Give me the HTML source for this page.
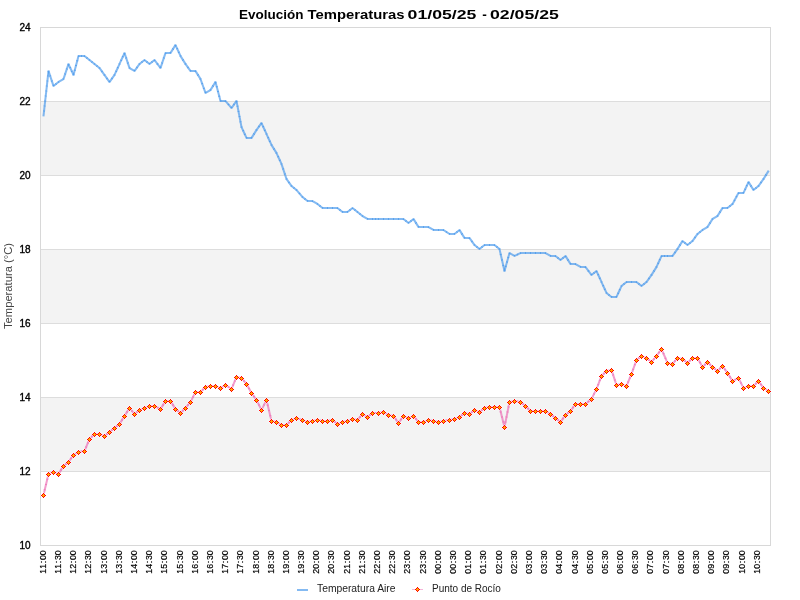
<!DOCTYPE html><html><head><meta charset="utf-8"><style>html,body{margin:0;padding:0;background:#fff;overflow:hidden}svg{display:block;will-change:transform}text{font-family:"Liberation Sans",sans-serif}</style></head><body>
<svg width="800" height="600" viewBox="0 0 800 600">
<defs><path id="mw" d="M0 -3h1v1h1v1h1v1h1v1h-1v1h-1v1h-1v1h-1v-1h-1v-1h-1v-1h-1v-1h1v-1h1v-1h1z" fill="#ffffff" fill-opacity="0.5"/><path id="mr" d="M0 -2h1v1h1v1h1v1h-1v1h-1v1h-1v-1h-1v-1h-1v-1h1v-1h1z" fill="#ff0000"/><path id="mo" d="M0 -1h1v1h1v1h-1v1h-1v-1h-1v-1h1z" fill="#ffa800"/></defs>
<rect x="0" y="0" width="800" height="600" fill="#ffffff"/>
<rect x="41" y="102" width="729" height="73" fill="#f3f3f3"/>
<rect x="41" y="250" width="729" height="73" fill="#f3f3f3"/>
<rect x="41" y="398" width="729" height="73" fill="#f3f3f3"/>
<line x1="41" y1="101.5" x2="770" y2="101.5" stroke="#dddddd" stroke-width="1"/>
<line x1="41" y1="175.5" x2="770" y2="175.5" stroke="#dddddd" stroke-width="1"/>
<line x1="41" y1="249.5" x2="770" y2="249.5" stroke="#dddddd" stroke-width="1"/>
<line x1="41" y1="323.5" x2="770" y2="323.5" stroke="#dddddd" stroke-width="1"/>
<line x1="41" y1="397.5" x2="770" y2="397.5" stroke="#dddddd" stroke-width="1"/>
<line x1="41" y1="471.5" x2="770" y2="471.5" stroke="#dddddd" stroke-width="1"/>
<rect x="40.5" y="27.5" width="730.0" height="518.0" fill="none" stroke="#d8d8d8" stroke-width="1"/>
<text x="30.5" y="31.0" font-size="10" text-anchor="end" fill="#000" stroke="#000" stroke-width="0.35">24</text>
<text x="30.5" y="105.0" font-size="10" text-anchor="end" fill="#000" stroke="#000" stroke-width="0.35">22</text>
<text x="30.5" y="179.0" font-size="10" text-anchor="end" fill="#000" stroke="#000" stroke-width="0.35">20</text>
<text x="30.5" y="253.0" font-size="10" text-anchor="end" fill="#000" stroke="#000" stroke-width="0.35">18</text>
<text x="30.5" y="327.0" font-size="10" text-anchor="end" fill="#000" stroke="#000" stroke-width="0.35">16</text>
<text x="30.5" y="401.0" font-size="10" text-anchor="end" fill="#000" stroke="#000" stroke-width="0.35">14</text>
<text x="30.5" y="475.0" font-size="10" text-anchor="end" fill="#000" stroke="#000" stroke-width="0.35">12</text>
<text x="30.5" y="549.0" font-size="10" text-anchor="end" fill="#000" stroke="#000" stroke-width="0.35">10</text>
<text transform="translate(11.6,329) rotate(-90)" font-size="11" textLength="86" lengthAdjust="spacingAndGlyphs" fill="#444">Temperatura (°C)</text>
<g font-size="12.4" font-weight="bold" fill="#000">
<text x="239.0" y="18.8" textLength="64.5" lengthAdjust="spacingAndGlyphs">Evolución</text>
<text x="307.6" y="18.8" textLength="96.9" lengthAdjust="spacingAndGlyphs">Temperaturas</text>
<text x="407.6" y="18.8" textLength="68.8" lengthAdjust="spacingAndGlyphs">01/05/25</text>
<text x="482.3" y="18.8" textLength="4.6" lengthAdjust="spacingAndGlyphs">-</text>
<text x="490.0" y="18.8" textLength="68.8" lengthAdjust="spacingAndGlyphs">02/05/25</text>
</g>
<text transform="translate(46,572.6) rotate(-90)" x="1.4 6.4 10.7 15.0 19.7" font-size="8.8" font-weight="normal" text-anchor="middle" fill="#000" stroke="#000" stroke-width="0.2">11:00</text>
<text transform="translate(61,572.6) rotate(-90)" x="1.4 6.4 10.7 15.0 19.7" font-size="8.8" font-weight="normal" text-anchor="middle" fill="#000" stroke="#000" stroke-width="0.2">11:30</text>
<text transform="translate(76,572.6) rotate(-90)" x="1.4 6.4 10.7 15.0 19.7" font-size="8.8" font-weight="normal" text-anchor="middle" fill="#000" stroke="#000" stroke-width="0.2">12:00</text>
<text transform="translate(91,572.6) rotate(-90)" x="1.4 6.4 10.7 15.0 19.7" font-size="8.8" font-weight="normal" text-anchor="middle" fill="#000" stroke="#000" stroke-width="0.2">12:30</text>
<text transform="translate(107,572.6) rotate(-90)" x="1.4 6.4 10.7 15.0 19.7" font-size="8.8" font-weight="normal" text-anchor="middle" fill="#000" stroke="#000" stroke-width="0.2">13:00</text>
<text transform="translate(122,572.6) rotate(-90)" x="1.4 6.4 10.7 15.0 19.7" font-size="8.8" font-weight="normal" text-anchor="middle" fill="#000" stroke="#000" stroke-width="0.2">13:30</text>
<text transform="translate(137,572.6) rotate(-90)" x="1.4 6.4 10.7 15.0 19.7" font-size="8.8" font-weight="normal" text-anchor="middle" fill="#000" stroke="#000" stroke-width="0.2">14:00</text>
<text transform="translate(152,572.6) rotate(-90)" x="1.4 6.4 10.7 15.0 19.7" font-size="8.8" font-weight="normal" text-anchor="middle" fill="#000" stroke="#000" stroke-width="0.2">14:30</text>
<text transform="translate(167,572.6) rotate(-90)" x="1.4 6.4 10.7 15.0 19.7" font-size="8.8" font-weight="normal" text-anchor="middle" fill="#000" stroke="#000" stroke-width="0.2">15:00</text>
<text transform="translate(183,572.6) rotate(-90)" x="1.4 6.4 10.7 15.0 19.7" font-size="8.8" font-weight="normal" text-anchor="middle" fill="#000" stroke="#000" stroke-width="0.2">15:30</text>
<text transform="translate(198,572.6) rotate(-90)" x="1.4 6.4 10.7 15.0 19.7" font-size="8.8" font-weight="normal" text-anchor="middle" fill="#000" stroke="#000" stroke-width="0.2">16:00</text>
<text transform="translate(213,572.6) rotate(-90)" x="1.4 6.4 10.7 15.0 19.7" font-size="8.8" font-weight="normal" text-anchor="middle" fill="#000" stroke="#000" stroke-width="0.2">16:30</text>
<text transform="translate(228,572.6) rotate(-90)" x="1.4 6.4 10.7 15.0 19.7" font-size="8.8" font-weight="normal" text-anchor="middle" fill="#000" stroke="#000" stroke-width="0.2">17:00</text>
<text transform="translate(243,572.6) rotate(-90)" x="1.4 6.4 10.7 15.0 19.7" font-size="8.8" font-weight="normal" text-anchor="middle" fill="#000" stroke="#000" stroke-width="0.2">17:30</text>
<text transform="translate(259,572.6) rotate(-90)" x="1.4 6.4 10.7 15.0 19.7" font-size="8.8" font-weight="normal" text-anchor="middle" fill="#000" stroke="#000" stroke-width="0.2">18:00</text>
<text transform="translate(274,572.6) rotate(-90)" x="1.4 6.4 10.7 15.0 19.7" font-size="8.8" font-weight="normal" text-anchor="middle" fill="#000" stroke="#000" stroke-width="0.2">18:30</text>
<text transform="translate(289,572.6) rotate(-90)" x="1.4 6.4 10.7 15.0 19.7" font-size="8.8" font-weight="normal" text-anchor="middle" fill="#000" stroke="#000" stroke-width="0.2">19:00</text>
<text transform="translate(304,572.6) rotate(-90)" x="1.4 6.4 10.7 15.0 19.7" font-size="8.8" font-weight="normal" text-anchor="middle" fill="#000" stroke="#000" stroke-width="0.2">19:30</text>
<text transform="translate(319,572.6) rotate(-90)" x="1.4 6.4 10.7 15.0 19.7" font-size="8.8" font-weight="normal" text-anchor="middle" fill="#000" stroke="#000" stroke-width="0.2">20:00</text>
<text transform="translate(334,572.6) rotate(-90)" x="1.4 6.4 10.7 15.0 19.7" font-size="8.8" font-weight="normal" text-anchor="middle" fill="#000" stroke="#000" stroke-width="0.2">20:30</text>
<text transform="translate(350,572.6) rotate(-90)" x="1.4 6.4 10.7 15.0 19.7" font-size="8.8" font-weight="normal" text-anchor="middle" fill="#000" stroke="#000" stroke-width="0.2">21:00</text>
<text transform="translate(365,572.6) rotate(-90)" x="1.4 6.4 10.7 15.0 19.7" font-size="8.8" font-weight="normal" text-anchor="middle" fill="#000" stroke="#000" stroke-width="0.2">21:30</text>
<text transform="translate(380,572.6) rotate(-90)" x="1.4 6.4 10.7 15.0 19.7" font-size="8.8" font-weight="normal" text-anchor="middle" fill="#000" stroke="#000" stroke-width="0.2">22:00</text>
<text transform="translate(395,572.6) rotate(-90)" x="1.4 6.4 10.7 15.0 19.7" font-size="8.8" font-weight="normal" text-anchor="middle" fill="#000" stroke="#000" stroke-width="0.2">22:30</text>
<text transform="translate(410,572.6) rotate(-90)" x="1.4 6.4 10.7 15.0 19.7" font-size="8.8" font-weight="normal" text-anchor="middle" fill="#000" stroke="#000" stroke-width="0.2">23:00</text>
<text transform="translate(426,572.6) rotate(-90)" x="1.4 6.4 10.7 15.0 19.7" font-size="8.8" font-weight="normal" text-anchor="middle" fill="#000" stroke="#000" stroke-width="0.2">23:30</text>
<text transform="translate(441,572.6) rotate(-90)" x="1.4 6.4 10.7 15.0 19.7" font-size="8.8" font-weight="normal" text-anchor="middle" fill="#000" stroke="#000" stroke-width="0.2">00:00</text>
<text transform="translate(456,572.6) rotate(-90)" x="1.4 6.4 10.7 15.0 19.7" font-size="8.8" font-weight="normal" text-anchor="middle" fill="#000" stroke="#000" stroke-width="0.2">00:30</text>
<text transform="translate(471,572.6) rotate(-90)" x="1.4 6.4 10.7 15.0 19.7" font-size="8.8" font-weight="normal" text-anchor="middle" fill="#000" stroke="#000" stroke-width="0.2">01:00</text>
<text transform="translate(486,572.6) rotate(-90)" x="1.4 6.4 10.7 15.0 19.7" font-size="8.8" font-weight="normal" text-anchor="middle" fill="#000" stroke="#000" stroke-width="0.2">01:30</text>
<text transform="translate(502,572.6) rotate(-90)" x="1.4 6.4 10.7 15.0 19.7" font-size="8.8" font-weight="normal" text-anchor="middle" fill="#000" stroke="#000" stroke-width="0.2">02:00</text>
<text transform="translate(517,572.6) rotate(-90)" x="1.4 6.4 10.7 15.0 19.7" font-size="8.8" font-weight="normal" text-anchor="middle" fill="#000" stroke="#000" stroke-width="0.2">02:30</text>
<text transform="translate(532,572.6) rotate(-90)" x="1.4 6.4 10.7 15.0 19.7" font-size="8.8" font-weight="normal" text-anchor="middle" fill="#000" stroke="#000" stroke-width="0.2">03:00</text>
<text transform="translate(547,572.6) rotate(-90)" x="1.4 6.4 10.7 15.0 19.7" font-size="8.8" font-weight="normal" text-anchor="middle" fill="#000" stroke="#000" stroke-width="0.2">03:30</text>
<text transform="translate(562,572.6) rotate(-90)" x="1.4 6.4 10.7 15.0 19.7" font-size="8.8" font-weight="normal" text-anchor="middle" fill="#000" stroke="#000" stroke-width="0.2">04:00</text>
<text transform="translate(578,572.6) rotate(-90)" x="1.4 6.4 10.7 15.0 19.7" font-size="8.8" font-weight="normal" text-anchor="middle" fill="#000" stroke="#000" stroke-width="0.2">04:30</text>
<text transform="translate(593,572.6) rotate(-90)" x="1.4 6.4 10.7 15.0 19.7" font-size="8.8" font-weight="normal" text-anchor="middle" fill="#000" stroke="#000" stroke-width="0.2">05:00</text>
<text transform="translate(608,572.6) rotate(-90)" x="1.4 6.4 10.7 15.0 19.7" font-size="8.8" font-weight="normal" text-anchor="middle" fill="#000" stroke="#000" stroke-width="0.2">05:30</text>
<text transform="translate(623,572.6) rotate(-90)" x="1.4 6.4 10.7 15.0 19.7" font-size="8.8" font-weight="normal" text-anchor="middle" fill="#000" stroke="#000" stroke-width="0.2">06:00</text>
<text transform="translate(638,572.6) rotate(-90)" x="1.4 6.4 10.7 15.0 19.7" font-size="8.8" font-weight="normal" text-anchor="middle" fill="#000" stroke="#000" stroke-width="0.2">06:30</text>
<text transform="translate(653,572.6) rotate(-90)" x="1.4 6.4 10.7 15.0 19.7" font-size="8.8" font-weight="normal" text-anchor="middle" fill="#000" stroke="#000" stroke-width="0.2">07:00</text>
<text transform="translate(669,572.6) rotate(-90)" x="1.4 6.4 10.7 15.0 19.7" font-size="8.8" font-weight="normal" text-anchor="middle" fill="#000" stroke="#000" stroke-width="0.2">07:30</text>
<text transform="translate(684,572.6) rotate(-90)" x="1.4 6.4 10.7 15.0 19.7" font-size="8.8" font-weight="normal" text-anchor="middle" fill="#000" stroke="#000" stroke-width="0.2">08:00</text>
<text transform="translate(699,572.6) rotate(-90)" x="1.4 6.4 10.7 15.0 19.7" font-size="8.8" font-weight="normal" text-anchor="middle" fill="#000" stroke="#000" stroke-width="0.2">08:30</text>
<text transform="translate(714,572.6) rotate(-90)" x="1.4 6.4 10.7 15.0 19.7" font-size="8.8" font-weight="normal" text-anchor="middle" fill="#000" stroke="#000" stroke-width="0.2">09:00</text>
<text transform="translate(729,572.6) rotate(-90)" x="1.4 6.4 10.7 15.0 19.7" font-size="8.8" font-weight="normal" text-anchor="middle" fill="#000" stroke="#000" stroke-width="0.2">09:30</text>
<text transform="translate(745,572.6) rotate(-90)" x="1.4 6.4 10.7 15.0 19.7" font-size="8.8" font-weight="normal" text-anchor="middle" fill="#000" stroke="#000" stroke-width="0.2">10:00</text>
<text transform="translate(760,572.6) rotate(-90)" x="1.4 6.4 10.7 15.0 19.7" font-size="8.8" font-weight="normal" text-anchor="middle" fill="#000" stroke="#000" stroke-width="0.2">10:30</text>
<g stroke="rgb(60,145,235)" stroke-opacity="0.63" stroke-width="2" fill="none" stroke-linecap="butt">
<path d="M43.45 116.45L44.11 110.55"/><path d="M44.01 111.45L44.66 105.55"/><path d="M44.56 106.45L45.22 100.55"/><path d="M45.12 101.45L45.77 95.55"/><path d="M45.67 96.45L46.33 90.55"/><path d="M46.23 91.45L46.88 85.55"/><path d="M46.78 86.45L47.44 80.55"/><path d="M47.34 81.45L47.99 75.55"/><path d="M47.89 76.45L48.55 70.55"/>
<path d="M48.36 70.57L50.31 76.43"/><path d="M50.02 75.57L51.98 81.43"/><path d="M51.69 80.57L53.64 86.43"/>
<path d="M53.15 86.28L56.35 83.72"/><path d="M55.65 84.28L58.85 81.72"/>
<path d="M58.11 82.23L63.89 78.77"/>
<path d="M63.36 79.43L65.31 73.57"/><path d="M65.02 74.43L66.98 68.57"/><path d="M66.69 69.43L68.64 63.57"/>
<path d="M68.31 63.59L70.35 68.08"/><path d="M69.98 67.26L72.02 71.74"/><path d="M71.65 70.92L73.69 75.41"/>
<path d="M73.39 75.44L74.86 69.81"/><path d="M74.64 70.69L76.11 65.06"/><path d="M75.89 65.94L77.36 60.31"/><path d="M77.14 61.19L78.61 55.56"/>
<path d="M78.05 56.00L81.95 56.00"/><path d="M81.05 56.00L84.95 56.00"/>
<path d="M84.15 55.72L87.35 58.28"/><path d="M86.65 57.72L89.85 60.28"/>
<path d="M89.15 59.72L92.35 62.28"/><path d="M91.65 61.72L94.85 64.28"/>
<path d="M94.15 63.72L97.35 66.28"/><path d="M96.65 65.72L99.85 68.28"/>
<path d="M99.24 67.63L102.26 71.87"/><path d="M101.74 71.13L104.76 75.37"/>
<path d="M104.24 74.63L107.26 78.87"/><path d="M106.74 78.13L109.76 82.37"/>
<path d="M109.24 82.37L112.26 78.13"/><path d="M111.74 78.87L114.76 74.63"/>
<path d="M114.31 75.41L116.35 70.92"/><path d="M115.98 71.74L118.02 67.26"/><path d="M117.65 68.08L119.69 63.59"/>
<path d="M119.31 64.41L121.35 59.92"/><path d="M120.98 60.74L123.02 56.26"/><path d="M122.65 57.08L124.69 52.59"/>
<path d="M124.36 52.57L126.31 58.43"/><path d="M126.02 57.57L127.98 63.43"/><path d="M127.69 62.57L129.64 68.43"/>
<path d="M129.11 67.77L134.89 71.23"/>
<path d="M134.24 71.37L137.26 67.13"/><path d="M136.74 67.87L139.76 63.63"/>
<path d="M139.15 64.28L142.35 61.72"/><path d="M141.65 62.28L144.85 59.72"/>
<path d="M144.15 59.72L147.35 62.28"/><path d="M146.65 61.72L149.85 64.28"/>
<path d="M149.15 64.28L152.35 61.72"/><path d="M151.65 62.28L154.85 59.72"/>
<path d="M154.23 59.64L157.77 64.36"/><path d="M157.23 63.64L160.77 68.36"/>
<path d="M160.36 68.43L162.31 62.57"/><path d="M162.02 63.43L163.98 57.57"/><path d="M163.69 58.43L165.64 52.57"/>
<path d="M165.05 53.00L170.95 53.00"/>
<path d="M170.26 53.38L173.24 48.62"/><path d="M172.76 49.38L175.74 44.62"/>
<path d="M175.31 44.59L177.35 49.08"/><path d="M176.98 48.26L179.02 52.74"/><path d="M178.65 51.92L180.69 56.41"/>
<path d="M180.26 55.62L183.24 60.38"/><path d="M182.76 59.62L185.74 64.38"/>
<path d="M185.24 63.63L188.26 67.87"/><path d="M187.74 67.13L190.76 71.37"/>
<path d="M190.05 71.00L195.95 71.00"/>
<path d="M195.26 70.62L198.24 75.38"/><path d="M197.76 74.62L200.74 79.38"/>
<path d="M200.35 78.58L202.32 84.09"/><path d="M202.02 83.24L203.98 88.76"/><path d="M203.68 87.91L205.65 93.42"/>
<path d="M205.11 93.23L210.89 89.77"/>
<path d="M210.26 90.38L213.24 85.62"/><path d="M212.76 86.38L215.74 81.62"/>
<path d="M215.39 81.56L216.86 87.19"/><path d="M216.64 86.31L218.11 91.94"/><path d="M217.89 91.06L219.36 96.69"/><path d="M219.14 95.81L220.61 101.44"/>
<path d="M220.05 101.00L225.95 101.00"/>
<path d="M225.21 100.66L228.79 104.84"/><path d="M228.21 104.16L231.79 108.34"/>
<path d="M231.24 108.37L234.26 104.13"/><path d="M233.74 104.87L236.76 100.63"/>
<path d="M236.42 100.56L237.58 106.64"/><path d="M237.42 105.76L238.58 111.84"/><path d="M238.42 110.96L239.58 117.04"/><path d="M239.42 116.16L240.58 122.24"/><path d="M240.42 121.36L241.58 127.44"/>
<path d="M241.31 126.59L243.35 131.08"/><path d="M242.98 130.26L245.02 134.74"/><path d="M244.65 133.92L246.69 138.41"/>
<path d="M246.05 138.00L251.95 138.00"/>
<path d="M251.26 138.38L254.24 133.62"/><path d="M253.76 134.38L256.74 129.62"/>
<path d="M256.24 130.37L259.26 126.13"/><path d="M258.74 126.87L261.76 122.63"/>
<path d="M261.31 122.59L263.35 127.08"/><path d="M262.98 126.26L265.02 130.74"/><path d="M264.65 129.92L266.69 134.41"/>
<path d="M266.31 133.59L268.35 138.08"/><path d="M267.98 137.26L270.02 141.74"/><path d="M269.65 140.92L271.69 145.41"/>
<path d="M271.26 144.62L274.24 149.38"/><path d="M273.76 148.62L276.74 153.38"/>
<path d="M276.31 152.59L278.35 157.08"/><path d="M277.98 156.26L280.02 160.74"/><path d="M279.65 159.92L281.69 164.41"/>
<path d="M281.36 163.57L283.31 169.43"/><path d="M283.02 168.57L284.98 174.43"/><path d="M284.69 173.57L286.64 179.43"/>
<path d="M286.24 178.63L289.26 182.87"/><path d="M288.74 182.13L291.76 186.37"/>
<path d="M291.15 185.72L294.35 188.28"/><path d="M293.65 187.72L296.85 190.28"/>
<path d="M296.21 189.66L299.79 193.84"/><path d="M299.21 193.16L302.79 197.34"/>
<path d="M302.15 196.72L305.35 199.28"/><path d="M304.65 198.72L307.85 201.28"/>
<path d="M307.05 201.00L312.95 201.00"/>
<path d="M312.11 200.77L317.89 204.23"/>
<path d="M317.15 203.72L320.35 206.28"/><path d="M319.65 205.72L322.85 208.28"/>
<path d="M322.05 208.00L327.95 208.00"/>
<path d="M327.05 208.00L332.95 208.00"/>
<path d="M332.05 208.00L337.95 208.00"/>
<path d="M337.15 207.72L340.35 210.28"/><path d="M339.65 209.72L342.85 212.28"/>
<path d="M342.05 212.00L347.95 212.00"/>
<path d="M347.15 212.28L350.35 209.72"/><path d="M349.65 210.28L352.85 207.72"/>
<path d="M352.15 207.72L355.35 210.28"/><path d="M354.65 209.72L357.85 212.28"/>
<path d="M357.15 211.72L360.35 214.28"/><path d="M359.65 213.72L362.85 216.28"/>
<path d="M362.11 215.77L367.89 219.23"/>
<path d="M367.05 219.00L372.95 219.00"/>
<path d="M372.05 219.00L375.95 219.00"/><path d="M375.05 219.00L378.95 219.00"/>
<path d="M378.05 219.00L383.95 219.00"/>
<path d="M383.05 219.00L388.95 219.00"/>
<path d="M388.05 219.00L393.95 219.00"/>
<path d="M393.05 219.00L398.95 219.00"/>
<path d="M398.05 219.00L403.95 219.00"/>
<path d="M403.15 218.72L406.35 221.28"/><path d="M405.65 220.72L408.85 223.28"/>
<path d="M408.15 223.28L411.35 220.72"/><path d="M410.65 221.28L413.85 218.72"/>
<path d="M413.26 218.62L416.24 223.38"/><path d="M415.76 222.62L418.74 227.38"/>
<path d="M418.05 227.00L423.95 227.00"/>
<path d="M423.05 227.00L428.95 227.00"/>
<path d="M428.11 226.77L433.89 230.23"/>
<path d="M433.05 230.00L438.95 230.00"/>
<path d="M438.05 230.00L443.95 230.00"/>
<path d="M443.13 229.75L446.87 232.25"/><path d="M446.13 231.75L449.87 234.25"/>
<path d="M449.05 234.00L454.95 234.00"/>
<path d="M454.15 234.28L457.35 231.72"/><path d="M456.65 232.28L459.85 229.72"/>
<path d="M459.26 229.62L462.24 234.38"/><path d="M461.76 233.62L464.74 238.38"/>
<path d="M464.05 238.00L469.95 238.00"/>
<path d="M469.24 237.63L472.26 241.87"/><path d="M471.74 241.13L474.76 245.37"/>
<path d="M474.15 244.72L477.35 247.28"/><path d="M476.65 246.72L479.85 249.28"/>
<path d="M479.15 249.28L482.35 246.72"/><path d="M481.65 247.28L484.85 244.72"/>
<path d="M484.05 245.00L489.95 245.00"/>
<path d="M489.05 245.00L494.95 245.00"/>
<path d="M494.15 244.72L497.35 247.28"/><path d="M496.65 246.72L499.85 249.28"/>
<path d="M499.40 248.56L500.85 254.94"/><path d="M500.65 254.06L502.10 260.44"/><path d="M501.90 259.56L503.35 265.94"/><path d="M503.15 265.06L504.60 271.44"/>
<path d="M504.38 271.43L505.87 266.07"/><path d="M505.63 266.93L507.12 261.57"/><path d="M506.88 262.43L508.37 257.07"/><path d="M508.13 257.93L509.62 252.57"/>
<path d="M509.11 252.77L514.89 256.23"/>
<path d="M514.10 256.20L517.90 254.30"/><path d="M517.10 254.70L520.90 252.80"/>
<path d="M520.05 253.00L525.95 253.00"/>
<path d="M525.05 253.00L530.95 253.00"/>
<path d="M530.05 253.00L535.95 253.00"/>
<path d="M535.05 253.00L540.95 253.00"/>
<path d="M540.05 253.00L545.95 253.00"/>
<path d="M545.11 252.77L550.89 256.23"/>
<path d="M550.05 256.00L555.95 256.00"/>
<path d="M555.15 255.72L558.35 258.28"/><path d="M557.65 257.72L560.85 260.28"/>
<path d="M560.15 260.28L563.35 257.72"/><path d="M562.65 258.28L565.85 255.72"/>
<path d="M565.26 255.62L568.24 260.38"/><path d="M567.76 259.62L570.74 264.38"/>
<path d="M570.05 264.00L575.95 264.00"/>
<path d="M575.11 263.77L580.89 267.23"/>
<path d="M580.05 267.00L585.95 267.00"/>
<path d="M585.23 266.64L588.77 271.36"/><path d="M588.23 270.64L591.77 275.36"/>
<path d="M591.15 275.28L594.35 272.72"/><path d="M593.65 273.28L596.85 270.72"/>
<path d="M596.31 270.59L598.35 275.08"/><path d="M597.98 274.26L600.02 278.74"/><path d="M599.65 277.92L601.69 282.41"/>
<path d="M601.31 281.59L603.35 286.08"/><path d="M602.98 285.26L605.02 289.74"/><path d="M604.65 288.92L606.69 293.41"/>
<path d="M606.15 292.72L609.35 295.28"/><path d="M608.65 294.72L611.85 297.28"/>
<path d="M611.05 297.00L616.95 297.00"/>
<path d="M616.31 297.41L618.35 292.92"/><path d="M617.98 293.74L620.02 289.26"/><path d="M619.65 290.08L621.69 285.59"/>
<path d="M621.15 286.28L624.35 283.72"/><path d="M623.65 284.28L626.85 281.72"/>
<path d="M626.05 282.00L631.95 282.00"/>
<path d="M631.05 282.00L636.95 282.00"/>
<path d="M636.15 281.72L639.35 284.28"/><path d="M638.65 283.72L641.85 286.28"/>
<path d="M641.15 286.28L644.35 283.72"/><path d="M643.65 284.28L646.85 281.72"/>
<path d="M646.24 282.37L649.26 278.13"/><path d="M648.74 278.87L651.76 274.63"/>
<path d="M651.26 275.38L654.24 270.62"/><path d="M653.76 271.38L656.74 266.62"/>
<path d="M656.31 267.41L658.35 262.92"/><path d="M657.98 263.74L660.02 259.26"/><path d="M659.65 260.08L661.69 255.59"/>
<path d="M661.05 256.00L664.95 256.00"/><path d="M664.05 256.00L667.95 256.00"/>
<path d="M667.05 256.00L672.95 256.00"/>
<path d="M672.24 256.37L675.26 252.13"/><path d="M674.74 252.87L677.76 248.63"/>
<path d="M677.26 249.38L680.24 244.62"/><path d="M679.76 245.38L682.74 240.62"/>
<path d="M682.15 240.72L685.35 243.28"/><path d="M684.65 242.72L687.85 245.28"/>
<path d="M687.15 245.28L690.35 242.72"/><path d="M689.65 243.28L692.85 240.72"/>
<path d="M692.24 241.37L695.26 237.13"/><path d="M694.74 237.87L697.76 233.63"/>
<path d="M697.15 234.28L700.35 231.72"/><path d="M699.65 232.28L702.85 229.72"/>
<path d="M702.11 230.23L707.89 226.77"/>
<path d="M707.26 227.38L710.24 222.62"/><path d="M709.76 223.38L712.74 218.62"/>
<path d="M712.11 219.23L717.89 215.77"/>
<path d="M717.26 216.38L720.24 211.62"/><path d="M719.76 212.38L722.74 207.62"/>
<path d="M722.05 208.00L727.95 208.00"/>
<path d="M727.15 208.28L730.35 205.72"/><path d="M729.65 206.28L732.85 203.72"/>
<path d="M732.28 204.40L734.72 199.94"/><path d="M734.28 200.73L736.72 196.27"/><path d="M736.28 197.06L738.72 192.60"/>
<path d="M738.05 193.00L743.95 193.00"/>
<path d="M743.31 193.41L745.35 188.92"/><path d="M744.98 189.74L747.02 185.26"/><path d="M746.65 186.08L748.69 181.59"/>
<path d="M748.26 181.62L751.24 186.38"/><path d="M750.76 185.62L753.74 190.38"/>
<path d="M753.15 190.28L756.35 187.72"/><path d="M755.65 188.28L758.85 185.72"/>
<path d="M758.24 186.37L761.26 182.13"/><path d="M760.74 182.87L763.76 178.63"/>
<path d="M763.26 179.38L766.24 174.62"/><path d="M765.76 175.38L768.74 170.62"/>
</g>
<g stroke="rgb(235,105,178)" stroke-opacity="0.66" stroke-width="2" fill="none" stroke-linecap="butt">
<path d="M43.40 495.44L44.85 489.31"/><path d="M44.65 490.19L46.10 484.06"/><path d="M45.90 484.94L47.35 478.81"/><path d="M47.15 479.69L48.60 473.56"/>
<path d="M48.08 474.17L53.92 471.83"/>
<path d="M53.08 471.83L58.92 474.17"/>
<path d="M58.26 474.38L61.24 469.62"/><path d="M60.76 470.38L63.74 465.62"/>
<path d="M63.15 466.28L66.35 463.72"/><path d="M65.65 464.28L68.85 461.72"/>
<path d="M68.24 462.37L71.26 458.13"/><path d="M70.74 458.87L73.76 454.63"/>
<path d="M73.11 455.23L78.89 451.77"/>
<path d="M78.06 452.07L81.94 451.43"/><path d="M81.06 451.57L84.94 450.93"/>
<path d="M84.33 451.42L86.34 446.58"/><path d="M85.99 447.42L88.01 442.58"/><path d="M87.66 443.42L89.67 438.58"/>
<path d="M89.18 439.32L92.32 436.18"/><path d="M91.68 436.82L94.82 433.68"/>
<path d="M94.05 434.00L99.95 434.00"/>
<path d="M99.08 433.83L104.92 436.17"/>
<path d="M104.15 436.28L107.35 433.72"/><path d="M106.65 434.28L109.85 431.72"/>
<path d="M109.15 432.28L112.35 429.72"/><path d="M111.65 430.28L114.85 427.72"/>
<path d="M114.15 428.28L117.35 425.72"/><path d="M116.65 426.28L119.85 423.72"/>
<path d="M119.26 424.38L122.24 419.62"/><path d="M121.76 420.38L124.74 415.62"/>
<path d="M124.26 416.38L127.24 411.62"/><path d="M126.76 412.38L129.74 407.62"/>
<path d="M129.21 407.65L132.29 411.35"/><path d="M131.71 410.65L134.79 414.35"/>
<path d="M134.15 414.28L137.35 411.72"/><path d="M136.65 412.28L139.85 409.72"/>
<path d="M139.08 410.17L144.92 407.83"/>
<path d="M144.08 408.17L149.92 405.83"/>
<path d="M149.05 406.00L154.95 406.00"/>
<path d="M154.10 405.80L157.90 407.70"/><path d="M157.10 407.30L160.90 409.20"/>
<path d="M160.26 409.38L163.24 404.62"/><path d="M162.76 405.38L165.74 400.62"/>
<path d="M165.05 401.00L170.95 401.00"/>
<path d="M170.26 400.62L173.24 405.38"/><path d="M172.76 404.62L175.74 409.38"/>
<path d="M175.15 408.72L178.35 411.28"/><path d="M177.65 410.72L180.85 413.28"/>
<path d="M180.18 413.32L183.32 410.18"/><path d="M182.68 410.82L185.82 407.68"/>
<path d="M185.21 408.35L188.29 404.65"/><path d="M187.71 405.35L190.79 401.65"/>
<path d="M190.30 402.40L193.20 396.60"/><path d="M192.80 397.40L195.70 391.60"/>
<path d="M195.05 392.00L200.95 392.00"/>
<path d="M200.18 392.32L203.32 389.18"/><path d="M202.68 389.82L205.82 386.68"/>
<path d="M205.06 387.09L210.94 385.91"/>
<path d="M210.05 386.00L215.95 386.00"/>
<path d="M215.08 385.83L220.92 388.17"/>
<path d="M220.11 388.23L225.89 384.77"/>
<path d="M225.13 384.75L228.87 387.25"/><path d="M228.13 386.75L231.87 389.25"/>
<path d="M231.33 389.42L233.34 384.58"/><path d="M232.99 385.42L235.01 380.58"/><path d="M234.66 381.42L236.67 376.58"/>
<path d="M236.06 376.91L241.94 378.09"/>
<path d="M241.21 377.65L244.29 381.35"/><path d="M243.71 380.65L246.79 384.35"/>
<path d="M246.28 383.61L249.22 388.89"/><path d="M248.78 388.11L251.72 393.39"/>
<path d="M251.24 392.63L254.26 396.87"/><path d="M253.74 396.13L256.76 400.37"/>
<path d="M256.30 399.60L259.20 405.40"/><path d="M258.80 404.60L261.70 410.40"/>
<path d="M261.30 410.40L264.20 404.60"/><path d="M263.80 405.40L266.70 399.60"/>
<path d="M266.40 399.56L267.85 405.69"/><path d="M267.65 404.81L269.10 410.94"/><path d="M268.90 410.06L270.35 416.19"/><path d="M270.15 415.31L271.60 421.44"/>
<path d="M271.06 420.91L276.94 422.09"/>
<path d="M276.11 421.77L281.89 425.23"/>
<path d="M281.05 425.00L286.95 425.00"/>
<path d="M286.18 425.32L289.32 422.18"/><path d="M288.68 422.82L291.82 419.68"/>
<path d="M291.08 420.17L296.92 417.83"/>
<path d="M296.07 417.86L299.93 419.14"/><path d="M299.07 418.86L302.93 420.14"/>
<path d="M302.08 419.83L307.92 422.17"/>
<path d="M307.06 422.09L312.94 420.91"/>
<path d="M312.06 421.09L317.94 419.91"/>
<path d="M317.06 419.91L322.94 421.09"/>
<path d="M322.05 421.00L327.95 421.00"/>
<path d="M327.06 421.09L332.94 419.91"/>
<path d="M332.15 419.72L335.35 422.28"/><path d="M334.65 421.72L337.85 424.28"/>
<path d="M337.08 424.17L342.92 421.83"/>
<path d="M342.06 422.09L347.94 420.91"/>
<path d="M347.08 421.17L352.92 418.83"/>
<path d="M352.06 418.91L357.94 420.09"/>
<path d="M357.21 420.35L360.29 416.65"/><path d="M359.71 417.35L362.79 413.65"/>
<path d="M362.11 413.77L367.89 417.23"/>
<path d="M367.15 417.28L370.35 414.72"/><path d="M369.65 415.28L372.85 412.72"/>
<path d="M372.05 413.00L375.95 413.00"/><path d="M375.05 413.00L378.95 413.00"/>
<path d="M378.06 413.09L383.94 411.91"/>
<path d="M383.11 411.77L388.89 415.23"/>
<path d="M388.06 414.91L393.94 416.09"/>
<path d="M393.24 415.63L396.26 419.87"/><path d="M395.74 419.13L398.76 423.37"/>
<path d="M398.24 423.37L401.26 419.13"/><path d="M400.74 419.87L403.76 415.63"/>
<path d="M403.08 415.83L408.92 418.17"/>
<path d="M408.08 418.17L413.92 415.83"/>
<path d="M413.21 415.65L416.29 419.35"/><path d="M415.71 418.65L418.79 422.35"/>
<path d="M418.05 422.00L423.95 422.00"/>
<path d="M423.08 422.17L428.92 419.83"/>
<path d="M428.06 419.91L433.94 421.09"/>
<path d="M433.06 420.91L438.94 422.09"/>
<path d="M438.06 422.09L443.94 420.91"/>
<path d="M443.06 421.07L446.94 420.43"/><path d="M446.06 420.57L449.94 419.93"/>
<path d="M449.06 420.09L454.94 418.91"/>
<path d="M454.08 419.17L459.92 416.83"/>
<path d="M459.15 417.28L462.35 414.72"/><path d="M461.65 415.28L464.85 412.72"/>
<path d="M464.06 412.91L469.94 414.09"/>
<path d="M469.15 414.28L472.35 411.72"/><path d="M471.65 412.28L474.85 409.72"/>
<path d="M474.08 409.83L479.92 412.17"/>
<path d="M479.15 412.28L482.35 409.72"/><path d="M481.65 410.28L484.85 407.72"/>
<path d="M484.06 408.09L489.94 406.91"/>
<path d="M489.05 407.00L494.95 407.00"/>
<path d="M494.05 407.00L499.95 407.00"/>
<path d="M499.39 406.56L500.86 412.44"/><path d="M500.64 411.56L502.11 417.44"/><path d="M501.89 416.56L503.36 422.44"/><path d="M503.14 421.56L504.61 427.44"/>
<path d="M504.41 427.44L505.59 421.56"/><path d="M505.41 422.44L506.59 416.56"/><path d="M506.41 417.44L507.59 411.56"/><path d="M507.41 412.44L508.59 406.56"/><path d="M508.41 407.44L509.59 401.56"/>
<path d="M509.06 402.09L514.94 400.91"/>
<path d="M514.06 400.93L517.94 401.57"/><path d="M517.06 401.43L520.94 402.07"/>
<path d="M520.15 401.72L523.35 404.28"/><path d="M522.65 403.72L525.85 406.28"/>
<path d="M525.18 405.68L528.32 408.82"/><path d="M527.68 408.18L530.82 411.32"/>
<path d="M530.05 411.00L535.95 411.00"/>
<path d="M535.05 411.00L540.95 411.00"/>
<path d="M540.05 411.00L545.95 411.00"/>
<path d="M545.11 410.77L550.89 414.23"/>
<path d="M550.15 413.72L553.35 416.28"/><path d="M552.65 415.72L555.85 418.28"/>
<path d="M555.15 417.72L558.35 420.28"/><path d="M557.65 419.72L560.85 422.28"/>
<path d="M560.24 422.37L563.26 418.13"/><path d="M562.74 418.87L565.76 414.63"/>
<path d="M565.15 415.28L568.35 412.72"/><path d="M567.65 413.28L570.85 410.72"/>
<path d="M570.24 411.37L573.26 407.13"/><path d="M572.74 407.87L575.76 403.63"/>
<path d="M575.05 404.00L580.95 404.00"/>
<path d="M580.05 404.00L585.95 404.00"/>
<path d="M585.15 404.29L588.85 401.21"/><path d="M588.15 401.79L591.85 398.71"/>
<path d="M591.30 399.40L594.20 393.60"/><path d="M593.80 394.40L596.70 388.60"/>
<path d="M596.34 389.42L598.33 384.25"/><path d="M598.01 385.09L599.99 379.91"/><path d="M599.67 380.75L601.66 375.58"/>
<path d="M601.18 376.32L604.32 373.18"/><path d="M603.68 373.82L606.82 370.68"/>
<path d="M606.06 371.09L611.94 369.91"/>
<path d="M611.36 369.57L613.31 375.43"/><path d="M613.02 374.57L614.98 380.43"/><path d="M614.69 379.57L616.64 385.43"/>
<path d="M616.06 385.09L621.94 383.91"/>
<path d="M621.08 383.83L626.92 386.17"/>
<path d="M626.33 386.42L628.34 381.58"/><path d="M627.99 382.42L630.01 377.58"/><path d="M629.66 378.42L631.67 373.58"/>
<path d="M631.35 374.42L633.32 368.91"/><path d="M633.02 369.76L634.98 364.24"/><path d="M634.68 365.09L636.65 359.58"/>
<path d="M636.15 360.28L639.35 357.72"/><path d="M638.65 358.28L641.85 355.72"/>
<path d="M641.08 355.83L646.92 358.17"/>
<path d="M646.15 357.72L649.35 360.28"/><path d="M648.65 359.72L651.85 362.28"/>
<path d="M651.21 362.35L654.29 358.65"/><path d="M653.71 359.35L656.79 355.65"/>
<path d="M656.24 356.37L659.26 352.13"/><path d="M658.74 352.87L661.76 348.63"/>
<path d="M661.32 348.59L663.68 354.08"/><path d="M663.32 353.25L665.68 358.75"/><path d="M665.32 357.92L667.68 363.41"/>
<path d="M667.06 362.91L672.94 364.09"/>
<path d="M672.21 364.35L675.29 360.65"/><path d="M674.71 361.35L677.79 357.65"/>
<path d="M677.06 357.91L682.94 359.09"/>
<path d="M682.15 358.72L685.35 361.28"/><path d="M684.65 360.72L687.85 363.28"/>
<path d="M687.18 363.32L690.32 360.18"/><path d="M689.68 360.82L692.82 357.68"/>
<path d="M692.05 358.00L697.95 358.00"/>
<path d="M697.28 357.61L700.22 362.89"/><path d="M699.78 362.11L702.72 367.39"/>
<path d="M702.18 367.32L705.32 364.18"/><path d="M704.68 364.82L707.82 361.68"/>
<path d="M707.18 361.68L710.32 364.82"/><path d="M709.68 364.18L712.82 367.32"/>
<path d="M712.15 366.72L715.35 369.28"/><path d="M714.65 368.72L717.85 371.28"/>
<path d="M717.18 371.32L720.32 368.18"/><path d="M719.68 368.82L722.82 365.68"/>
<path d="M722.24 365.63L725.26 369.87"/><path d="M724.74 369.13L727.76 373.37"/>
<path d="M727.26 372.62L730.24 377.38"/><path d="M729.76 376.62L732.74 381.38"/>
<path d="M732.10 381.20L735.90 379.30"/><path d="M735.10 379.70L738.90 377.80"/>
<path d="M738.30 377.60L741.20 383.40"/><path d="M740.80 382.60L743.70 388.40"/>
<path d="M743.08 388.17L748.92 385.83"/>
<path d="M748.05 386.00L753.95 386.00"/>
<path d="M753.18 386.32L756.32 383.18"/><path d="M755.68 383.82L758.82 380.68"/>
<path d="M758.24 380.63L761.26 384.87"/><path d="M760.74 384.13L763.76 388.37"/>
<path d="M763.11 387.77L768.89 391.23"/>
</g>
<g shape-rendering="crispEdges">
<use href="#mw" x="43" y="495"/>
<use href="#mw" x="48" y="474"/>
<use href="#mw" x="53" y="472"/>
<use href="#mw" x="58" y="474"/>
<use href="#mw" x="63" y="466"/>
<use href="#mw" x="68" y="462"/>
<use href="#mw" x="73" y="455"/>
<use href="#mw" x="78" y="452"/>
<use href="#mw" x="84" y="451"/>
<use href="#mw" x="89" y="439"/>
<use href="#mw" x="94" y="434"/>
<use href="#mw" x="99" y="434"/>
<use href="#mw" x="104" y="436"/>
<use href="#mw" x="109" y="432"/>
<use href="#mw" x="114" y="428"/>
<use href="#mw" x="119" y="424"/>
<use href="#mw" x="124" y="416"/>
<use href="#mw" x="129" y="408"/>
<use href="#mw" x="134" y="414"/>
<use href="#mw" x="139" y="410"/>
<use href="#mw" x="144" y="408"/>
<use href="#mw" x="149" y="406"/>
<use href="#mw" x="154" y="406"/>
<use href="#mw" x="160" y="409"/>
<use href="#mw" x="165" y="401"/>
<use href="#mw" x="170" y="401"/>
<use href="#mw" x="175" y="409"/>
<use href="#mw" x="180" y="413"/>
<use href="#mw" x="185" y="408"/>
<use href="#mw" x="190" y="402"/>
<use href="#mw" x="195" y="392"/>
<use href="#mw" x="200" y="392"/>
<use href="#mw" x="205" y="387"/>
<use href="#mw" x="210" y="386"/>
<use href="#mw" x="215" y="386"/>
<use href="#mw" x="220" y="388"/>
<use href="#mw" x="225" y="385"/>
<use href="#mw" x="231" y="389"/>
<use href="#mw" x="236" y="377"/>
<use href="#mw" x="241" y="378"/>
<use href="#mw" x="246" y="384"/>
<use href="#mw" x="251" y="393"/>
<use href="#mw" x="256" y="400"/>
<use href="#mw" x="261" y="410"/>
<use href="#mw" x="266" y="400"/>
<use href="#mw" x="271" y="421"/>
<use href="#mw" x="276" y="422"/>
<use href="#mw" x="281" y="425"/>
<use href="#mw" x="286" y="425"/>
<use href="#mw" x="291" y="420"/>
<use href="#mw" x="296" y="418"/>
<use href="#mw" x="302" y="420"/>
<use href="#mw" x="307" y="422"/>
<use href="#mw" x="312" y="421"/>
<use href="#mw" x="317" y="420"/>
<use href="#mw" x="322" y="421"/>
<use href="#mw" x="327" y="421"/>
<use href="#mw" x="332" y="420"/>
<use href="#mw" x="337" y="424"/>
<use href="#mw" x="342" y="422"/>
<use href="#mw" x="347" y="421"/>
<use href="#mw" x="352" y="419"/>
<use href="#mw" x="357" y="420"/>
<use href="#mw" x="362" y="414"/>
<use href="#mw" x="367" y="417"/>
<use href="#mw" x="372" y="413"/>
<use href="#mw" x="378" y="413"/>
<use href="#mw" x="383" y="412"/>
<use href="#mw" x="388" y="415"/>
<use href="#mw" x="393" y="416"/>
<use href="#mw" x="398" y="423"/>
<use href="#mw" x="403" y="416"/>
<use href="#mw" x="408" y="418"/>
<use href="#mw" x="413" y="416"/>
<use href="#mw" x="418" y="422"/>
<use href="#mw" x="423" y="422"/>
<use href="#mw" x="428" y="420"/>
<use href="#mw" x="433" y="421"/>
<use href="#mw" x="438" y="422"/>
<use href="#mw" x="443" y="421"/>
<use href="#mw" x="449" y="420"/>
<use href="#mw" x="454" y="419"/>
<use href="#mw" x="459" y="417"/>
<use href="#mw" x="464" y="413"/>
<use href="#mw" x="469" y="414"/>
<use href="#mw" x="474" y="410"/>
<use href="#mw" x="479" y="412"/>
<use href="#mw" x="484" y="408"/>
<use href="#mw" x="489" y="407"/>
<use href="#mw" x="494" y="407"/>
<use href="#mw" x="499" y="407"/>
<use href="#mw" x="504" y="427"/>
<use href="#mw" x="509" y="402"/>
<use href="#mw" x="514" y="401"/>
<use href="#mw" x="520" y="402"/>
<use href="#mw" x="525" y="406"/>
<use href="#mw" x="530" y="411"/>
<use href="#mw" x="535" y="411"/>
<use href="#mw" x="540" y="411"/>
<use href="#mw" x="545" y="411"/>
<use href="#mw" x="550" y="414"/>
<use href="#mw" x="555" y="418"/>
<use href="#mw" x="560" y="422"/>
<use href="#mw" x="565" y="415"/>
<use href="#mw" x="570" y="411"/>
<use href="#mw" x="575" y="404"/>
<use href="#mw" x="580" y="404"/>
<use href="#mw" x="585" y="404"/>
<use href="#mw" x="591" y="399"/>
<use href="#mw" x="596" y="389"/>
<use href="#mw" x="601" y="376"/>
<use href="#mw" x="606" y="371"/>
<use href="#mw" x="611" y="370"/>
<use href="#mw" x="616" y="385"/>
<use href="#mw" x="621" y="384"/>
<use href="#mw" x="626" y="386"/>
<use href="#mw" x="631" y="374"/>
<use href="#mw" x="636" y="360"/>
<use href="#mw" x="641" y="356"/>
<use href="#mw" x="646" y="358"/>
<use href="#mw" x="651" y="362"/>
<use href="#mw" x="656" y="356"/>
<use href="#mw" x="661" y="349"/>
<use href="#mw" x="667" y="363"/>
<use href="#mw" x="672" y="364"/>
<use href="#mw" x="677" y="358"/>
<use href="#mw" x="682" y="359"/>
<use href="#mw" x="687" y="363"/>
<use href="#mw" x="692" y="358"/>
<use href="#mw" x="697" y="358"/>
<use href="#mw" x="702" y="367"/>
<use href="#mw" x="707" y="362"/>
<use href="#mw" x="712" y="367"/>
<use href="#mw" x="717" y="371"/>
<use href="#mw" x="722" y="366"/>
<use href="#mw" x="727" y="373"/>
<use href="#mw" x="732" y="381"/>
<use href="#mw" x="738" y="378"/>
<use href="#mw" x="743" y="388"/>
<use href="#mw" x="748" y="386"/>
<use href="#mw" x="753" y="386"/>
<use href="#mw" x="758" y="381"/>
<use href="#mw" x="763" y="388"/>
<use href="#mw" x="768" y="391"/>
<use href="#mr" x="43" y="495"/>
<use href="#mr" x="48" y="474"/>
<use href="#mr" x="53" y="472"/>
<use href="#mr" x="58" y="474"/>
<use href="#mr" x="63" y="466"/>
<use href="#mr" x="68" y="462"/>
<use href="#mr" x="73" y="455"/>
<use href="#mr" x="78" y="452"/>
<use href="#mr" x="84" y="451"/>
<use href="#mr" x="89" y="439"/>
<use href="#mr" x="94" y="434"/>
<use href="#mr" x="99" y="434"/>
<use href="#mr" x="104" y="436"/>
<use href="#mr" x="109" y="432"/>
<use href="#mr" x="114" y="428"/>
<use href="#mr" x="119" y="424"/>
<use href="#mr" x="124" y="416"/>
<use href="#mr" x="129" y="408"/>
<use href="#mr" x="134" y="414"/>
<use href="#mr" x="139" y="410"/>
<use href="#mr" x="144" y="408"/>
<use href="#mr" x="149" y="406"/>
<use href="#mr" x="154" y="406"/>
<use href="#mr" x="160" y="409"/>
<use href="#mr" x="165" y="401"/>
<use href="#mr" x="170" y="401"/>
<use href="#mr" x="175" y="409"/>
<use href="#mr" x="180" y="413"/>
<use href="#mr" x="185" y="408"/>
<use href="#mr" x="190" y="402"/>
<use href="#mr" x="195" y="392"/>
<use href="#mr" x="200" y="392"/>
<use href="#mr" x="205" y="387"/>
<use href="#mr" x="210" y="386"/>
<use href="#mr" x="215" y="386"/>
<use href="#mr" x="220" y="388"/>
<use href="#mr" x="225" y="385"/>
<use href="#mr" x="231" y="389"/>
<use href="#mr" x="236" y="377"/>
<use href="#mr" x="241" y="378"/>
<use href="#mr" x="246" y="384"/>
<use href="#mr" x="251" y="393"/>
<use href="#mr" x="256" y="400"/>
<use href="#mr" x="261" y="410"/>
<use href="#mr" x="266" y="400"/>
<use href="#mr" x="271" y="421"/>
<use href="#mr" x="276" y="422"/>
<use href="#mr" x="281" y="425"/>
<use href="#mr" x="286" y="425"/>
<use href="#mr" x="291" y="420"/>
<use href="#mr" x="296" y="418"/>
<use href="#mr" x="302" y="420"/>
<use href="#mr" x="307" y="422"/>
<use href="#mr" x="312" y="421"/>
<use href="#mr" x="317" y="420"/>
<use href="#mr" x="322" y="421"/>
<use href="#mr" x="327" y="421"/>
<use href="#mr" x="332" y="420"/>
<use href="#mr" x="337" y="424"/>
<use href="#mr" x="342" y="422"/>
<use href="#mr" x="347" y="421"/>
<use href="#mr" x="352" y="419"/>
<use href="#mr" x="357" y="420"/>
<use href="#mr" x="362" y="414"/>
<use href="#mr" x="367" y="417"/>
<use href="#mr" x="372" y="413"/>
<use href="#mr" x="378" y="413"/>
<use href="#mr" x="383" y="412"/>
<use href="#mr" x="388" y="415"/>
<use href="#mr" x="393" y="416"/>
<use href="#mr" x="398" y="423"/>
<use href="#mr" x="403" y="416"/>
<use href="#mr" x="408" y="418"/>
<use href="#mr" x="413" y="416"/>
<use href="#mr" x="418" y="422"/>
<use href="#mr" x="423" y="422"/>
<use href="#mr" x="428" y="420"/>
<use href="#mr" x="433" y="421"/>
<use href="#mr" x="438" y="422"/>
<use href="#mr" x="443" y="421"/>
<use href="#mr" x="449" y="420"/>
<use href="#mr" x="454" y="419"/>
<use href="#mr" x="459" y="417"/>
<use href="#mr" x="464" y="413"/>
<use href="#mr" x="469" y="414"/>
<use href="#mr" x="474" y="410"/>
<use href="#mr" x="479" y="412"/>
<use href="#mr" x="484" y="408"/>
<use href="#mr" x="489" y="407"/>
<use href="#mr" x="494" y="407"/>
<use href="#mr" x="499" y="407"/>
<use href="#mr" x="504" y="427"/>
<use href="#mr" x="509" y="402"/>
<use href="#mr" x="514" y="401"/>
<use href="#mr" x="520" y="402"/>
<use href="#mr" x="525" y="406"/>
<use href="#mr" x="530" y="411"/>
<use href="#mr" x="535" y="411"/>
<use href="#mr" x="540" y="411"/>
<use href="#mr" x="545" y="411"/>
<use href="#mr" x="550" y="414"/>
<use href="#mr" x="555" y="418"/>
<use href="#mr" x="560" y="422"/>
<use href="#mr" x="565" y="415"/>
<use href="#mr" x="570" y="411"/>
<use href="#mr" x="575" y="404"/>
<use href="#mr" x="580" y="404"/>
<use href="#mr" x="585" y="404"/>
<use href="#mr" x="591" y="399"/>
<use href="#mr" x="596" y="389"/>
<use href="#mr" x="601" y="376"/>
<use href="#mr" x="606" y="371"/>
<use href="#mr" x="611" y="370"/>
<use href="#mr" x="616" y="385"/>
<use href="#mr" x="621" y="384"/>
<use href="#mr" x="626" y="386"/>
<use href="#mr" x="631" y="374"/>
<use href="#mr" x="636" y="360"/>
<use href="#mr" x="641" y="356"/>
<use href="#mr" x="646" y="358"/>
<use href="#mr" x="651" y="362"/>
<use href="#mr" x="656" y="356"/>
<use href="#mr" x="661" y="349"/>
<use href="#mr" x="667" y="363"/>
<use href="#mr" x="672" y="364"/>
<use href="#mr" x="677" y="358"/>
<use href="#mr" x="682" y="359"/>
<use href="#mr" x="687" y="363"/>
<use href="#mr" x="692" y="358"/>
<use href="#mr" x="697" y="358"/>
<use href="#mr" x="702" y="367"/>
<use href="#mr" x="707" y="362"/>
<use href="#mr" x="712" y="367"/>
<use href="#mr" x="717" y="371"/>
<use href="#mr" x="722" y="366"/>
<use href="#mr" x="727" y="373"/>
<use href="#mr" x="732" y="381"/>
<use href="#mr" x="738" y="378"/>
<use href="#mr" x="743" y="388"/>
<use href="#mr" x="748" y="386"/>
<use href="#mr" x="753" y="386"/>
<use href="#mr" x="758" y="381"/>
<use href="#mr" x="763" y="388"/>
<use href="#mr" x="768" y="391"/>
<use href="#mo" x="43" y="495"/>
<use href="#mo" x="48" y="474"/>
<use href="#mo" x="53" y="472"/>
<use href="#mo" x="58" y="474"/>
<use href="#mo" x="63" y="466"/>
<use href="#mo" x="68" y="462"/>
<use href="#mo" x="73" y="455"/>
<use href="#mo" x="78" y="452"/>
<use href="#mo" x="84" y="451"/>
<use href="#mo" x="89" y="439"/>
<use href="#mo" x="94" y="434"/>
<use href="#mo" x="99" y="434"/>
<use href="#mo" x="104" y="436"/>
<use href="#mo" x="109" y="432"/>
<use href="#mo" x="114" y="428"/>
<use href="#mo" x="119" y="424"/>
<use href="#mo" x="124" y="416"/>
<use href="#mo" x="129" y="408"/>
<use href="#mo" x="134" y="414"/>
<use href="#mo" x="139" y="410"/>
<use href="#mo" x="144" y="408"/>
<use href="#mo" x="149" y="406"/>
<use href="#mo" x="154" y="406"/>
<use href="#mo" x="160" y="409"/>
<use href="#mo" x="165" y="401"/>
<use href="#mo" x="170" y="401"/>
<use href="#mo" x="175" y="409"/>
<use href="#mo" x="180" y="413"/>
<use href="#mo" x="185" y="408"/>
<use href="#mo" x="190" y="402"/>
<use href="#mo" x="195" y="392"/>
<use href="#mo" x="200" y="392"/>
<use href="#mo" x="205" y="387"/>
<use href="#mo" x="210" y="386"/>
<use href="#mo" x="215" y="386"/>
<use href="#mo" x="220" y="388"/>
<use href="#mo" x="225" y="385"/>
<use href="#mo" x="231" y="389"/>
<use href="#mo" x="236" y="377"/>
<use href="#mo" x="241" y="378"/>
<use href="#mo" x="246" y="384"/>
<use href="#mo" x="251" y="393"/>
<use href="#mo" x="256" y="400"/>
<use href="#mo" x="261" y="410"/>
<use href="#mo" x="266" y="400"/>
<use href="#mo" x="271" y="421"/>
<use href="#mo" x="276" y="422"/>
<use href="#mo" x="281" y="425"/>
<use href="#mo" x="286" y="425"/>
<use href="#mo" x="291" y="420"/>
<use href="#mo" x="296" y="418"/>
<use href="#mo" x="302" y="420"/>
<use href="#mo" x="307" y="422"/>
<use href="#mo" x="312" y="421"/>
<use href="#mo" x="317" y="420"/>
<use href="#mo" x="322" y="421"/>
<use href="#mo" x="327" y="421"/>
<use href="#mo" x="332" y="420"/>
<use href="#mo" x="337" y="424"/>
<use href="#mo" x="342" y="422"/>
<use href="#mo" x="347" y="421"/>
<use href="#mo" x="352" y="419"/>
<use href="#mo" x="357" y="420"/>
<use href="#mo" x="362" y="414"/>
<use href="#mo" x="367" y="417"/>
<use href="#mo" x="372" y="413"/>
<use href="#mo" x="378" y="413"/>
<use href="#mo" x="383" y="412"/>
<use href="#mo" x="388" y="415"/>
<use href="#mo" x="393" y="416"/>
<use href="#mo" x="398" y="423"/>
<use href="#mo" x="403" y="416"/>
<use href="#mo" x="408" y="418"/>
<use href="#mo" x="413" y="416"/>
<use href="#mo" x="418" y="422"/>
<use href="#mo" x="423" y="422"/>
<use href="#mo" x="428" y="420"/>
<use href="#mo" x="433" y="421"/>
<use href="#mo" x="438" y="422"/>
<use href="#mo" x="443" y="421"/>
<use href="#mo" x="449" y="420"/>
<use href="#mo" x="454" y="419"/>
<use href="#mo" x="459" y="417"/>
<use href="#mo" x="464" y="413"/>
<use href="#mo" x="469" y="414"/>
<use href="#mo" x="474" y="410"/>
<use href="#mo" x="479" y="412"/>
<use href="#mo" x="484" y="408"/>
<use href="#mo" x="489" y="407"/>
<use href="#mo" x="494" y="407"/>
<use href="#mo" x="499" y="407"/>
<use href="#mo" x="504" y="427"/>
<use href="#mo" x="509" y="402"/>
<use href="#mo" x="514" y="401"/>
<use href="#mo" x="520" y="402"/>
<use href="#mo" x="525" y="406"/>
<use href="#mo" x="530" y="411"/>
<use href="#mo" x="535" y="411"/>
<use href="#mo" x="540" y="411"/>
<use href="#mo" x="545" y="411"/>
<use href="#mo" x="550" y="414"/>
<use href="#mo" x="555" y="418"/>
<use href="#mo" x="560" y="422"/>
<use href="#mo" x="565" y="415"/>
<use href="#mo" x="570" y="411"/>
<use href="#mo" x="575" y="404"/>
<use href="#mo" x="580" y="404"/>
<use href="#mo" x="585" y="404"/>
<use href="#mo" x="591" y="399"/>
<use href="#mo" x="596" y="389"/>
<use href="#mo" x="601" y="376"/>
<use href="#mo" x="606" y="371"/>
<use href="#mo" x="611" y="370"/>
<use href="#mo" x="616" y="385"/>
<use href="#mo" x="621" y="384"/>
<use href="#mo" x="626" y="386"/>
<use href="#mo" x="631" y="374"/>
<use href="#mo" x="636" y="360"/>
<use href="#mo" x="641" y="356"/>
<use href="#mo" x="646" y="358"/>
<use href="#mo" x="651" y="362"/>
<use href="#mo" x="656" y="356"/>
<use href="#mo" x="661" y="349"/>
<use href="#mo" x="667" y="363"/>
<use href="#mo" x="672" y="364"/>
<use href="#mo" x="677" y="358"/>
<use href="#mo" x="682" y="359"/>
<use href="#mo" x="687" y="363"/>
<use href="#mo" x="692" y="358"/>
<use href="#mo" x="697" y="358"/>
<use href="#mo" x="702" y="367"/>
<use href="#mo" x="707" y="362"/>
<use href="#mo" x="712" y="367"/>
<use href="#mo" x="717" y="371"/>
<use href="#mo" x="722" y="366"/>
<use href="#mo" x="727" y="373"/>
<use href="#mo" x="732" y="381"/>
<use href="#mo" x="738" y="378"/>
<use href="#mo" x="743" y="388"/>
<use href="#mo" x="748" y="386"/>
<use href="#mo" x="753" y="386"/>
<use href="#mo" x="758" y="381"/>
<use href="#mo" x="763" y="388"/>
<use href="#mo" x="768" y="391"/>
</g>
<line x1="297" y1="590" x2="308" y2="590" stroke="rgb(60,145,235)" stroke-opacity="0.63" stroke-width="2"/>
<text x="317" y="592" font-size="10" textLength="78.5" lengthAdjust="spacingAndGlyphs" fill="#222">Temperatura Aire</text>
<line x1="412" y1="589.5" x2="423" y2="589.5" stroke="rgb(235,105,178)" stroke-opacity="0.5" stroke-width="1"/>
<g shape-rendering="crispEdges"><use href="#mr" x="417" y="589"/><use href="#mo" x="417" y="589"/></g>
<text x="432" y="592" font-size="10" fill="#222">Punto de Rocío</text>
</svg></body></html>
